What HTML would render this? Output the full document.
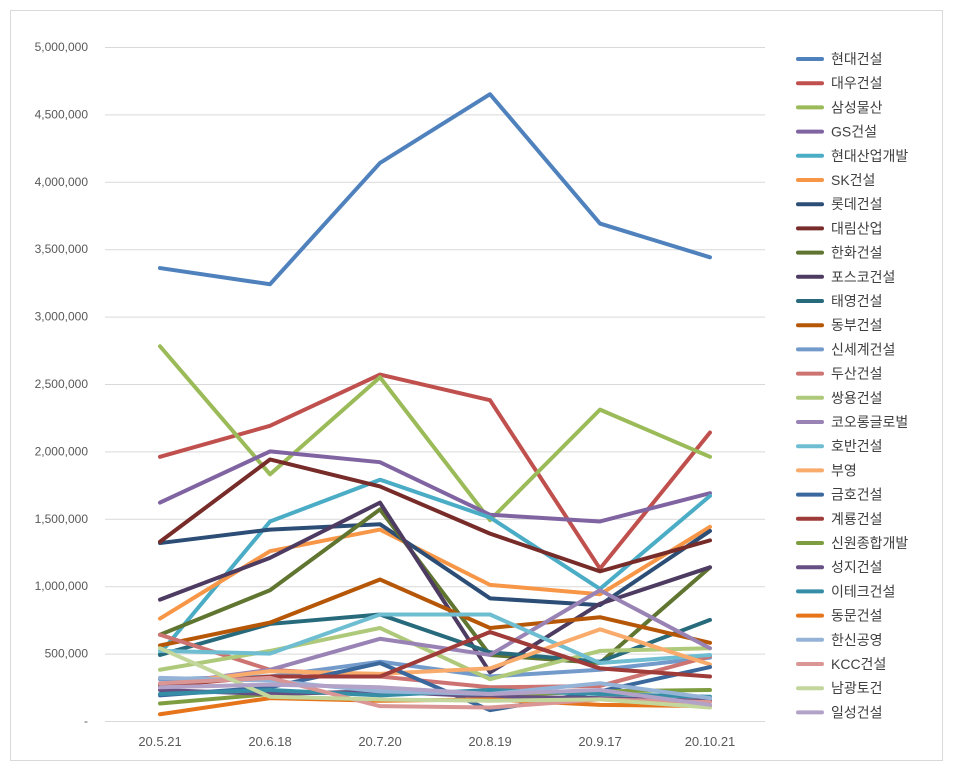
<!DOCTYPE html>
<html><head><meta charset="utf-8">
<style>
body{margin:0;background:#fff;font-family:"Liberation Sans","Noto Sans CJK KR",sans-serif;}
</style></head>
<body>
<svg id="chart" width="953" height="772" xmlns="http://www.w3.org/2000/svg" font-family="Liberation Sans, Noto Sans CJK KR, sans-serif">
<rect x="10.5" y="10.5" width="932" height="750" fill="#fff" stroke="#d9d9d9"/>
<g id="grid"></g><g id="axes"></g><g id="series"></g><g id="legend"></g>
</svg>
<script>
const categories=["20.5.21","20.6.18","20.7.20","20.8.19","20.9.17","20.10.21"];
const yTicks=[0,500000,1000000,1500000,2000000,2500000,3000000,3500000,4000000,4500000,5000000];
const names=["현대건설","대우건설","삼성물산","GS건설","현대산업개발","SK건설","롯데건설","대림산업","한화건설","포스코건설","태영건설","동부건설","신세계건설","두산건설","쌍용건설","코오롱글로벌","호반건설","부영","금호건설","계룡건설","신원종합개발","성지건설","이테크건설","동문건설","한신공영","KCC건설","남광토건","일성건설"];
const colors=["#4F81BD","#C0504D","#9BBB59","#8064A2","#4BACC6","#F79646","#2C4D75","#772C2A","#5F7530","#4D3B62","#276A7C","#B65708","#729ACA","#CD7371","#AFC97A","#9983B5","#6FBDD1","#F9AB6B","#3A679C","#9F3B38","#7E9D40","#664F83","#358EA6","#E6741A","#95B3D7","#D99694","#C3D69B","#B3A2C7"];
const s01=[3360000,3240000,4140000,4650000,3690000,3440000];
const s02=[1960000,2190000,2570000,2380000,1130000,2140000];
const s03=[2780000,1830000,2550000,1490000,2310000,1960000];
const s04=[1620000,2000000,1920000,1530000,1480000,1690000];
const s05=[500000,1480000,1790000,1510000,980000,1670000];
const s06=[760000,1260000,1420000,1010000,940000,1440000];
const s07=[1320000,1420000,1460000,910000,860000,1410000];
const s08=[1330000,1940000,1740000,1390000,1110000,1340000];
const s09=[640000,970000,1570000,490000,430000,1140000];
const s10=[900000,1210000,1620000,360000,870000,1140000];
const s11=[490000,720000,790000,510000,440000,750000];
const s12=[560000,730000,1050000,690000,770000,580000];
const s13=[310000,330000,440000,330000,380000,470000];
const s14=[640000,380000,330000,250000,260000,480000];
const s15=[380000,520000,690000,310000,520000,540000];
const s16=[270000,380000,610000,490000,970000,540000];
const s17=[520000,500000,790000,790000,430000,490000];
const s18=[270000,370000,350000,390000,680000,420000];
const s19=[190000,250000,430000,80000,220000,400000];
const s20=[260000,330000,330000,660000,390000,330000];
const s21=[130000,200000,220000,190000,220000,230000];
const s22=[230000,200000,220000,180000,170000,150000];
const s23=[200000,230000,190000,230000,200000,180000];
const s24=[50000,170000,150000,160000,120000,110000];
const s25=[320000,300000,220000,200000,280000,170000];
const s26=[280000,320000,110000,100000,160000,140000];
const s27=[540000,180000,160000,150000,160000,100000];
const s28=[250000,270000,250000,200000,230000,120000];
const seriesValues=[s01,s02,s03,s04,s05,s06,s07,s08,s09,s10,s11,s12,s13,s14,s15,s16,s17,s18,s19,s20,s21,s22,s23,s24,s25,s26,s27,s28];

const NS="http://www.w3.org/2000/svg";
const plot={l:105,r:765,t:47,b:721};
const yMax=5000000;
function x(i){return 160+i*(710-160)/(categories.length-1);}
function y(v){return plot.b-(v/yMax)*(plot.b-plot.t);}
function mk(tag,attrs,parent){const e=document.createElementNS(NS,tag);for(const k in attrs)e.setAttribute(k,attrs[k]);parent.appendChild(e);return e;}
const grid=document.getElementById('grid'),axes=document.getElementById('axes'),ser=document.getElementById('series'),leg=document.getElementById('legend');
yTicks.forEach(v=>{
  const ln=mk('line',{x1:plot.l,x2:plot.r,y1:y(v)+0.5,y2:y(v)+0.5,stroke:'#d9d9d9'},grid);
  
  
  const t=mk('text',{x:88,y:y(v)+4,'text-anchor':'end','font-size':12,fill:'#595959'},axes);
  t.textContent=v===0?'-':v.toLocaleString('en-US');
  
  
});
categories.forEach((c,i)=>{
  const t=mk('text',{x:x(i),y:746,'text-anchor':'middle','font-size':13,fill:'#595959'},axes);
  t.textContent=c;
  
  
});
seriesValues.forEach((vals,si)=>{
  const pts=vals.map((v,i)=>x(i)+','+y(v)).join(' ');
  const p=mk('polyline',{points:pts,fill:'none',stroke:colors[si],'stroke-width':4,'stroke-linejoin':'round','stroke-linecap':'round'},ser);
  
  
});
for(let si=seriesValues.length-1;si>=0;si--){}
names.forEach((n,i)=>{
  const yy=59+i*24.2;
  const g=mk('g',{},leg);
  
  
  mk('line',{x1:798,x2:822,y1:yy,y2:yy,stroke:colors[i],'stroke-width':4,'stroke-linecap':'round'},g);
  const t=mk('text',{x:831,y:yy+5,'font-size':14,fill:'#404040'},g);
  t.textContent=n;
});
</script>
</body></html>
